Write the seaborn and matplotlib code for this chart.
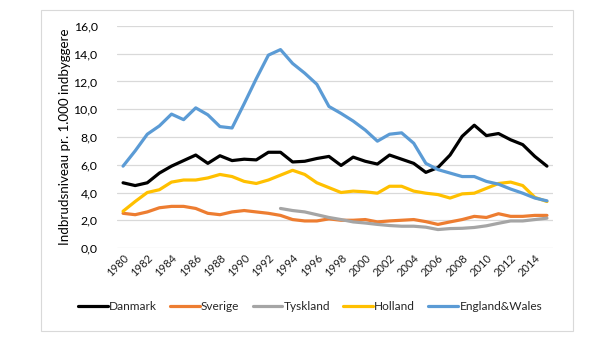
import numpy as np
import pandas as pd
import matplotlib
matplotlib.use("Agg")
import matplotlib.pyplot as plt
import seaborn as sns
from matplotlib.ticker import FuncFormatter
from matplotlib.patches import Rectangle
from matplotlib.lines import Line2D

years = list(range(1980, 2016))
danmark = [4.7, 4.5, 4.7, 5.4, 5.9, 6.3, 6.7, 6.1, 6.65, 6.3, 6.4, 6.35, 6.9, 6.9, 6.2, 6.25,
           6.45, 6.6, 5.95, 6.55, 6.25, 6.05, 6.7, 6.4, 6.1, 5.45, 5.8, 6.7, 8.05, 8.85, 8.1,
           8.25, 7.8, 7.45, 6.6, 5.9]
sverige = [2.5, 2.4, 2.6, 2.9, 3.0, 3.0, 2.85, 2.5, 2.4, 2.6, 2.7, 2.6, 2.5, 2.35, 2.05, 1.95,
           1.95, 2.1, 2.0, 2.0, 2.05, 1.88, 1.95, 2.0, 2.05, 1.9, 1.7, 1.88, 2.05, 2.28, 2.2,
           2.47, 2.28, 2.28, 2.35, 2.35]
tyskland = [np.nan] * 13 + [2.85, 2.7, 2.6, 2.4, 2.2, 2.05, 1.88, 1.8, 1.7, 1.62, 1.57, 1.57,
                            1.5, 1.33, 1.4, 1.42, 1.48, 1.6, 1.78, 1.95, 1.95, 2.05, 2.15]
holland = [2.65, 3.35, 4.0, 4.2, 4.75, 4.9, 4.9, 5.05, 5.3, 5.15, 4.8, 4.65, 4.9, 5.25, 5.6, 5.3,
           4.7, 4.35, 4.0, 4.1, 4.05, 3.95, 4.45, 4.45, 4.1, 3.95, 3.85, 3.6, 3.9, 3.95, 4.3,
           4.65, 4.75, 4.5, 3.65, 3.35]
england_wales = [5.9, 7.0, 8.2, 8.8, 9.65, 9.25, 10.1, 9.6, 8.75, 8.65, 10.4, 12.2, 13.9, 14.3,
                 13.3, 12.6, 11.8, 10.2, 9.7, 9.15, 8.5, 7.7, 8.2, 8.3, 7.55, 6.1, 5.65, 5.4,
                 5.15, 5.15, 4.8, 4.6, 4.25, 3.95, 3.6, 3.4]

countries = ["Danmark", "Sverige", "Tyskland", "Holland", "England&Wales"]
colors = ["#000000", "#ED7D31", "#A5A5A5", "#FFC000", "#5B9BD5"]
xticks = list(range(1980, 2015, 2))
ylabel = "Indbrudsniveau pr. 1.000 indbyggere"

series = [danmark, sverige, tyskland, holland, england_wales]
frames = [pd.DataFrame({"year": years, "value": s, "country": c}) for c, s in zip(countries, series)]
df = pd.concat(frames, ignore_index=True)

sns.set_theme(style="white")
plt.rcParams["font.family"] = ["Lato", "DejaVu Sans"]

fig = plt.figure(figsize=(6.0, 3.44), dpi=100)
ax = fig.add_axes([117 / 600, 1 - 248 / 344, (553 - 117) / 600, (248 - 26) / 344])

sns.lineplot(data=df, x="year", y="value", hue="country", hue_order=countries,
             palette=dict(zip(countries, colors)), linewidth=2.3, ax=ax, legend=False)

ax.set_xlim(1979.5, 2015.5)
ax.set_ylim(0, 16)
ax.set_yticks(np.arange(0, 17, 2))
ax.yaxis.set_major_formatter(FuncFormatter(lambda v, p: f"{v:.1f}".replace(".", ",")))
ax.set_xticks(xticks)
ax.set_xticklabels([str(y) for y in xticks], rotation=45, ha="right", rotation_mode="anchor")
ax.tick_params(axis="x", labelsize=8, pad=3, length=0, colors="#202020")
ax.tick_params(axis="y", labelsize=8.8, pad=14, length=0, colors="#000000")
ax.grid(axis="y", color="#D9D9D9", linewidth=0.9)
ax.set_axisbelow(True)
for s in ax.spines.values():
    s.set_visible(False)
ax.set_xlabel("")
ax.set_ylabel(ylabel, fontsize=9.6, labelpad=2, color="#000000")

handles = [Line2D([], [], color=c, linewidth=2.3) for c in colors]
fig.legend(handles, countries, loc="center", bbox_to_anchor=(310 / 600, 1 - 307 / 344),
           ncol=5, frameon=False, fontsize=8.6, handlelength=2.5, handletextpad=0.1,
           columnspacing=1.1)

fig.patches.append(Rectangle((40.5 / 600, 1 - 331 / 344), (573 - 40.5) / 600, (331 - 10) / 344,
                             transform=fig.transFigure, fill=False, edgecolor="#D9D9D9",
                             linewidth=0.8))

fig.savefig("out.png", dpi=100)
